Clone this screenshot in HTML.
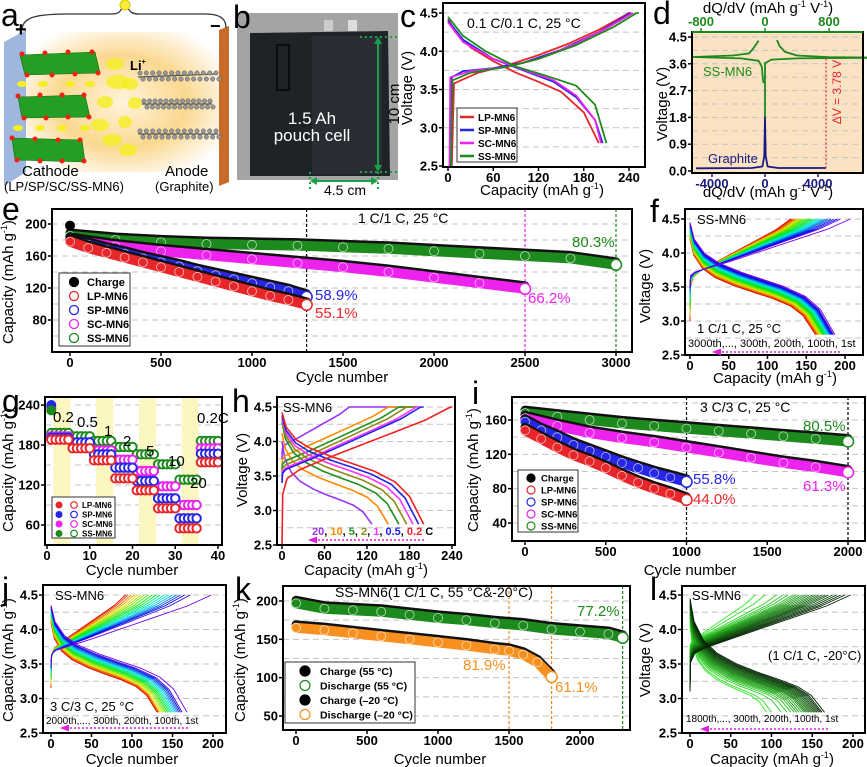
<!DOCTYPE html>
<html><head><meta charset="utf-8"><style>
body{margin:0;background:#fff}
svg{display:block;font-family:"Liberation Sans",Arial,sans-serif}
</style></head><body>
<svg id="fig" width="867" height="767" viewBox="0 0 867 767">
<defs>
<radialGradient id="elec" cx="0.5" cy="0.5" r="0.6"><stop offset="0" stop-color="#fff4dc"/><stop offset="0.55" stop-color="#fbd890"/><stop offset="1" stop-color="#fff"/></radialGradient>
</defs>
<!-- panel a -->
<g>
<rect x="25" y="32" width="195" height="140" rx="20" fill="url(#elec)"/>
<polygon points="4,42 26,30 26,172 4,186" fill="#9fb6df"/>
<polygon points="219,30 229,26 229,182 219,186" fill="#c86a28"/>
<path d="M22,30 C22,16 40,14 70,14 L112,14 C118,14 120,12 122,8 M128,8 C130,12 132,14 140,14 L205,14 C222,14 226,20 226,28" fill="none" stroke="#333" stroke-width="1.3"/>
<ellipse cx="125" cy="5" rx="5" ry="5" fill="#ffe93a" stroke="#cc0"/>
<g fill="#23a023" stroke="#116611" stroke-width="0.6">
<polygon points="20,55 95,52 100,73 25,75"/><polygon points="18,97 85,95 90,117 22,118"/><polygon points="12,138 82,140 85,162 15,160"/>
</g>
<g fill="#e21">
<circle cx="22" cy="54" r="2.5"/><circle cx="45" cy="53" r="2.5"/><circle cx="68" cy="52" r="2.5"/><circle cx="92" cy="52" r="2.5"/><circle cx="27" cy="75" r="2.5"/><circle cx="52" cy="75" r="2.5"/><circle cx="75" cy="74" r="2.5"/><circle cx="98" cy="73" r="2.5"/>
<circle cx="18" cy="96" r="2.5"/><circle cx="40" cy="95" r="2.5"/><circle cx="62" cy="95" r="2.5"/><circle cx="84" cy="95" r="2.5"/><circle cx="24" cy="118" r="2.5"/><circle cx="46" cy="118" r="2.5"/><circle cx="68" cy="117" r="2.5"/><circle cx="89" cy="117" r="2.5"/>
<circle cx="12" cy="138" r="2.5"/><circle cx="35" cy="139" r="2.5"/><circle cx="58" cy="140" r="2.5"/><circle cx="80" cy="140" r="2.5"/><circle cx="17" cy="160" r="2.5"/><circle cx="40" cy="161" r="2.5"/><circle cx="62" cy="161" r="2.5"/><circle cx="84" cy="161" r="2.5"/>
</g>
<g fill="#f4ef20">
<ellipse cx="22" cy="84" rx="5" ry="3"/><ellipse cx="43" cy="84" rx="5" ry="3"/><ellipse cx="70" cy="84" rx="5" ry="3"/><ellipse cx="90" cy="84" rx="5" ry="3"/>
<ellipse cx="18" cy="128" rx="5" ry="3"/><ellipse cx="40" cy="128" rx="5" ry="3"/><ellipse cx="62" cy="128" rx="5" ry="3"/><ellipse cx="85" cy="128" rx="5" ry="3"/>
<ellipse cx="115" cy="64" rx="9" ry="6" opacity="0.8"/><ellipse cx="118" cy="82" rx="12" ry="7" opacity="0.8"/><ellipse cx="130" cy="84" rx="8" ry="6" opacity="0.8"/><ellipse cx="105" cy="102" rx="8" ry="6" opacity="0.8"/><ellipse cx="135" cy="103" rx="7" ry="6" opacity="0.8"/><ellipse cx="100" cy="125" rx="9" ry="6" opacity="0.8"/><ellipse cx="125" cy="122" rx="7" ry="6" opacity="0.8"/><ellipse cx="112" cy="140" rx="10" ry="6" opacity="0.8"/><ellipse cx="128" cy="150" rx="9" ry="6" opacity="0.8"/>
</g>
<g id="graphite" stroke="#555" stroke-width="1.2" fill="#999">
<line x1="138" y1="77" x2="218" y2="74"/><line x1="142" y1="104" x2="212" y2="104"/><line x1="138" y1="134" x2="218" y2="134"/>
</g>
<text x="130" y="70" font-size="13" font-weight="bold">Li<tspan font-size="7" dy="-6">+</tspan></text>
<text x="15" y="36" font-size="20" font-weight="bold">+</text>
<text x="210" y="32" font-size="18" font-weight="bold">−</text>
<text x="22" y="176" font-size="15">Cathode</text>
<text x="4" y="191" font-size="13">(LP/SP/SC/SS-MN6)</text>
<text x="165" y="176" font-size="15">Anode</text>
<text x="155" y="191" font-size="13">(Graphite)</text>
<text x="1" y="26" font-size="32">a</text>
</g>
<!-- panel b -->
<g>
<rect x="237" y="13" width="161" height="167" fill="#a4a4a4"/>
<polygon points="250,33 388,31 390,176 250,176" fill="#1f2227"/>
<rect x="312" y="36" width="70" height="138" fill="#2a2d33"/>
<rect x="277" y="45" width="12" height="45" fill="none" stroke="#0c0c0c" stroke-width="2"/>
<rect x="324" y="20" width="9" height="11" fill="#ccc"/>
<rect x="348" y="20" width="9" height="11" fill="#ddd"/>
<text x="312" y="124" font-size="17" fill="#fff" text-anchor="middle">1.5 Ah</text>
<text x="312" y="141" font-size="17" fill="#fff" text-anchor="middle">pouch cell</text>
<g stroke="#1aa04a" stroke-width="2" fill="#1aa04a">
<line x1="360" y1="37" x2="400" y2="37" stroke-dasharray="2,3"/><line x1="360" y1="172" x2="400" y2="172" stroke-dasharray="2,3"/>
<line x1="378" y1="42" x2="378" y2="167"/><polygon points="374,44 382,44 378,37" stroke="none"/><polygon points="374,165 382,165 378,172" stroke="none"/>
<line x1="310" y1="172" x2="310" y2="190" stroke-dasharray="2,3"/><line x1="378" y1="172" x2="378" y2="190" stroke-dasharray="2,3"/>
<line x1="315" y1="181" x2="373" y2="181"/><polygon points="317,177 317,185 310,181" stroke="none"/><polygon points="371,177 371,185 378,181" stroke="none"/>
</g>
<text x="399" y="104" font-size="15" text-anchor="middle" transform="rotate(-90 399 104)">10 cm</text>
<text x="345" y="195" font-size="14" text-anchor="middle">4.5 cm</text>
<text x="233" y="28" font-size="32">b</text>
</g>
</svg>
<script>
const NS='http://www.w3.org/2000/svg';
const svg=document.getElementById('fig');
function mk(tag,attrs,parent){const e=document.createElementNS(NS,tag);for(const k in attrs)e.setAttribute(k,attrs[k]);(parent||svg).appendChild(e);return e;}
function lin(d0,d1,r0,r1){return v=>r0+(v-d0)*(r1-r0)/(d1-d0);}
function txt(x,y,s,attrs,parent){const t=mk('text',Object.assign({x:x,y:y},attrs||{}),parent);t.textContent=s;return t;}

/* ===== DATA ===== */
// panel c
const cLPchgCap=[5,8,40,80,120,160,200,240,243], cLPchgV=[2.5,3.58,3.72,3.82,3.95,4.1,4.28,4.5,4.5];
const cLPdisCap=[0,10,30,60,90,120,150,180,200], cLPdisV=[4.42,4.25,4.05,3.87,3.72,3.6,3.47,3.2,2.8];
const cSPchgCap=[3,5,20,60,100,150,200,242], cSPchgV=[2.5,3.66,3.74,3.78,3.85,4.02,4.25,4.5];
const cSPdisCap=[0,20,60,100,140,170,195,205], cSPdisV=[4.4,4.15,3.9,3.75,3.6,3.4,3.1,2.8];
const cSCchgCap=[2,3,30,80,120,170,210,245], cSCchgV=[2.5,3.66,3.74,3.8,3.9,4.1,4.3,4.5];
const cSCdisCap=[0,20,60,100,140,170,195,203], cSCdisV=[4.38,4.12,3.9,3.76,3.62,3.42,3.1,2.8];
const cSSchgCap=[4,6,30,80,120,170,220,250,253], cSSchgV=[2.5,3.62,3.72,3.8,3.9,4.08,4.32,4.5,4.5];
const cSSdisCap=[0,20,50,90,130,170,195,210], cSSdisV=[4.45,4.2,4.0,3.8,3.68,3.55,3.3,2.8];
// panel d
const dSScenterDq=[0,0], dSScenterV=[1.8,3.65];
const dSSdisDq=[-20,-30,-40,-80,-300,-900,-400,-200,-150,-100,-80], dSSdisV=[2.95,3.2,3.5,3.7,3.78,3.83,3.88,3.95,4.1,4.3,4.38];
const dSSchgDq=[0,80,400,1300], dSSchgV=[3.62,3.74,3.78,3.8];
const dSSchgTopDq=[150,180,250,400,800,1300], dSSchgTopV=[4.4,4.2,4.0,3.88,3.82,3.81];
const dGrDq=[-5200,-1000,-200,-50,0,50,200,1000,4600], dGrV=[0.09,0.1,0.15,0.5,1.8,0.5,0.15,0.1,0.1];
// panel e
const eLPcyc=[0,100,200,300,400,500,600,700,800,900,1000,1100,1200,1300];
const eLPcap=[178,170,164,158,152,146,140,134,128,122,116,110,105,99];
const eSPcyc=[0,100,200,300,400,500,600,700,800,900,1000,1100,1200,1300];
const eSPcap=[180,174,168,163,157,152,147,141,136,131,126,121,116,109];
const eSCcyc=[0,250,500,750,1000,1250,1500,1750,2000,2250,2500];
const eSCcap=[180,172,166,161,156,151,146,140,133,126,119];
const eSScyc=[0,250,500,750,1000,1250,1500,1750,2000,2250,2500,2750,3000];
const eSScap=[185,180,177,175,174,173,171,169,166,163,160,157,149];
// panel f
const fDisCap=[187,185,184,183,182,181,180,179,178,177,176,175,174,173,172,171,170,169,168,167,166,165,164,163,162];
const fChgCap=[207,194,190,186,182,178,175,172,169,166,163,160,157,154,151,148,146,144,142,140,138,136,134,132,130];
// panel g
const gRateLabels=['0.2','0.5','1','2','5','10','20','0.2C'];
const gLP=[188,175,157,130,112,85,55,154];
const gSP=[191,184,166,146,126,100,70,167];
const gSC=[193,183,172,158,141,118,90,175];
const gSS=[198,193,186,177,166,151,128,186];
const gFirst=[234,240,237,232];
// panel h
const hRates=['20','10','5','2','1','0.5','0.2'];
const hDisCap=[127,150,165,176,185,193,200];
const hDisStart=[4.0,4.12,4.28,4.32,4.35,4.38,4.42];
const hDisMid=[3.2,3.38,3.47,3.54,3.6,3.65,3.7];
const hChgCap=[95,150,165,176,190,196,238];
const hChgEnd=[190,180,186,190,195,200,240];
const hChgStart=[3.75,3.6,3.55,3.5,3.45,3.4,2.5];
const hChgMid=[3.95,3.8,3.72,3.66,3.62,3.6,3.55];
// panel i
const iLPcyc=[0,100,200,300,400,500,600,700,800,900,1000], iLPcap=[148,138,128,119,112,104,95,87,80,74,67];
const iSPcyc=[0,100,200,300,400,500,600,700,800,900,1000], iSPcap=[158,148,140,131,124,117,110,104,98,93,88];
const iSCcyc=[0,200,400,600,800,1000,1200,1400,1600,1800,2000], iSCcap=[162,153,145,139,134,128,122,116,110,105,99];
const iSScyc=[0,200,400,600,800,1000,1200,1400,1600,1800,2000], iSScap=[168,164,160,156,153,150,147,144,141,138,135];
// panel j
const jDisCap=[168,162,160,158,156,154,152,150,148,146,144,142,140,138,136,134,133,132,131];
const jChgCap=[198,172,165,160,155,150,145,140,135,130,125,120,115,111,107,103,99,95,92];
// panel k
const kHotCyc=[0,200,400,600,800,1000,1200,1400,1600,1800,2000,2200,2300];
const kHotCap=[197,190,188,186,182,178,175,171,168,163,160,157,152];
const kColdCyc=[0,200,400,600,800,1000,1200,1400,1500,1600,1700,1800];
const kColdCap=[165,162,158,154,150,146,142,137,135,130,120,101];
// panel l
const lDisCap=[165,162,160,158,156,154,152,150,148,146,144,142,140,137,134,131,128,124,119,112,100,94];
const lChgCap=[197,190,185,180,175,170,166,162,158,154,150,146,142,138,134,130,126,120,114,106,92,80];
// voltage-profile shape templates (fraction of capacity)
const tplFrac=[0,0.03,0.1,0.2,0.35,0.5,0.65,0.8,0.9,1];
const tplHi=[1,0.7,0.45,0.28,0.15,0.07,0.02,0,0,0];
const tplLo=[0,0,0,0,0.03,0.08,0.16,0.32,0.55,1];
const cTplFrac=[0,0.004,0.03,0.1,0.25,0.45,0.65,0.85,1];
const cTplRise=[0,0.7,0.9,0.97,1,1,1,1,1];
const cTplLin=[0,0,0.02,0.07,0.2,0.4,0.6,0.8,1];

/* ===== HELPERS ===== */
function panel(id,box,xs,ys,xT,xL,yT,yL,grid,o){
  o=o||{};
  const g=mk('g',{});
  
  
  if(o.bg){const b=mk('rect',{x:box[0],y:box[1],width:box[2]-box[0],height:box[3]-box[1],fill:o.bg},g);
    
    }
  grid.forEach(v=>{const l=mk('line',{x1:box[0],x2:box[2],y1:ys(v),y2:ys(v),stroke:'#c4c4c4','stroke-dasharray':'6,4','stroke-width':1},g);
    
    });
  const data=mk('g',{},g);
  
  
  const fr=mk('g',{},g);
  
  
  const xc=o.xColor||'#000';
  xT.forEach((v,i)=>{const x=xs(v);
    const t=mk('line',{x1:x,x2:x,y1:box[3],y2:box[3]+4,stroke:xc,'stroke-width':1.5},fr);
    
    
    const lb=txt(x,box[3]+15,xL[i],{'font-size':o.fs||13,'font-weight':'bold','text-anchor':'middle',fill:xc},fr);
    
    });
  yT.forEach((v,i)=>{const y=ys(v);
    const t=mk('line',{x1:box[0]-4,x2:box[0],y1:y,y2:y,stroke:'#000','stroke-width':1.5},fr);
    
    
    const lb=txt(box[0]-5,y+4.5,yL[i],{'font-size':o.fs||13,'font-weight':'bold','text-anchor':'end'},fr);
    
    });
  const r=mk('rect',{x:box[0],y:box[1],width:box[2]-box[0],height:box[3]-box[1],fill:'none',stroke:'#000','stroke-width':2},fr);
  
  
  return {g:g,data:data,fr:fr};
}
function pathD(xsArr,ysArr,xs,ys){return xsArr.map((v,i)=>(i?'L':'M')+xs(v).toFixed(1)+','+ys(ysArr[i]).toFixed(1)).join(' ');}
function line(parent,xa,ya,xs,ys,color,w,name){const p=mk('path',{d:pathD(xa,ya,xs,ys),fill:'none',stroke:color,'stroke-width':w||1.8,'stroke-linejoin':'round'},parent);
  
  return p;}
function band(parent,cyc,cap,xs,ys,color,name){
  const blk=mk('path',{d:pathD(cyc,cap,xs,v=>ys(v)-3),fill:'none',stroke:'#111','stroke-width':9,'stroke-linecap':'round','stroke-linejoin':'round'},parent);
  
  
  const p=mk('path',{d:pathD(cyc,cap,xs,ys),fill:'none',stroke:color,'stroke-width':10,'stroke-linecap':'round','stroke-linejoin':'round'},parent);
  
  
  cyc.forEach((c,i)=>{const m=mk('circle',{cx:xs(c),cy:ys(cap[i]),r:4.5,fill:'none',stroke:'#fff','stroke-width':0.8,opacity:0.7},parent);
    
    });
  const n=cyc.length-1;
  const e=mk('circle',{cx:xs(cyc[n]),cy:ys(cap[n]),r:5.5,fill:'#fff',stroke:color,'stroke-width':1.5},parent);
  
  
}
function disCurve(cap,start,mid){const xa=[],ya=[];tplFrac.forEach((f,k)=>{xa.push(f*cap);ya.push(mid+tplHi[k]*(start-mid)-tplLo[k]*(mid-2.8));});return [xa,ya];}
function chgCurve(cap,start,mid){const xa=[],ya=[];cTplFrac.forEach((f,k)=>{xa.push(f*cap);ya.push(start+(mid-start)*cTplRise[k]+(4.5-mid)*cTplLin[k]);});return [xa,ya];}
function family(parent,xs,ys,disCap,chgCap,p,colorFn,name){
  const n=disCap.length;
  for(let i=n-1;i>=0;i--){const t=i/(n-1);const L=(a)=>a[0]+(a[1]-a[0])*t;
    const c=chgCurve(chgCap[i],L(p.cs),L(p.cm));
    line(parent,c[0],c[1],xs,ys,colorFn(t),0.9,name+'-charge-curve');
    const d=disCurve(disCap[i],L(p.ds),L(p.dm));
    line(parent,d[0],d[1],xs,ys,colorFn(t),0.9,name+'-discharge-curve');}
}
function label(x,y,s,attrs,name){const t=txt(x,y,s,attrs);
  
  return t;}
function ytitle(x,y,html,name){const t=mk('text',{x:x,y:y,'font-size':15,'text-anchor':'middle',transform:'rotate(-90 '+x+' '+y+')'});t.innerHTML=html;
  
  }
function xtitle(x,y,html,name){const t=mk('text',{x:x,y:y,'font-size':15,'text-anchor':'middle'});t.innerHTML=html;
  
  }
function arrowL(x1,x2,y,name){const l=mk('line',{x1:x1+6,x2:x2,y1:y,y2:y,stroke:'#e020e0','stroke-width':1.5,'stroke-dasharray':'2,2'});
  
  
  const h=mk('polygon',{points:(x1)+','+y+' '+(x1+9)+','+(y-3.5)+' '+(x1+9)+','+(y+3.5),fill:'#e020e0'});
  
  }
function legendBox(x,y,w,h,name){const r=mk('rect',{x:x,y:y,width:w,height:h,fill:'#fff',stroke:'#333','stroke-width':1});
  
  }
const CAP='Capacity (mAh g<tspan font-size="9" dy="-6">-1</tspan><tspan dy="6">)</tspan>';
const VOLT='Voltage (V)';
const RED='#e8262a',BLUE='#2626e6',MAG='#ee22ee',GRN='#1d8a1d';
const vT=[2.5,3.0,3.5,4.0,4.5],vL=['2.5','3.0','3.5','4.0','4.5'],vG=[2.75,3.0,3.25,3.5,3.75,4.0,4.25,4.5];

/* graphite atoms decoration (panel a) */
{const gg=document.getElementById('graphite');
[[140,76,216,74],[144,104,210,104],[140,134,216,134]].forEach(r=>{for(let k=0;k<=12;k++){const x=r[0]+(r[2]-r[0])*k/12;
  const a=mk('circle',{cx:x,cy:r[1]-3,r:2.2,fill:'#999',stroke:'#555','stroke-width':0.5},gg);
  
  
  const b=mk('circle',{cx:x+3,cy:r[1]+3,r:2.2,fill:'#999',stroke:'#555','stroke-width':0.5},gg);
  
  }});}

/* ===== PANEL C ===== */
{const xs=lin(0,240,448,629),ys=lin(2.5,4.5,166,13);
const P=panel('panel-c',[443,3,645,167],xs,ys,[0,60,120,180,240],['0','60','120','180','240'],vT,vL,vG);
line(P.data,cLPchgCap,cLPchgV,xs,ys,RED,1.8,'lp-mn6-charge-curve');line(P.data,cLPdisCap,cLPdisV,xs,ys,RED,1.8,'lp-mn6-discharge-curve');
line(P.data,cSPchgCap,cSPchgV,xs,ys,BLUE,1.8,'sp-mn6-charge-curve');line(P.data,cSPdisCap,cSPdisV,xs,ys,BLUE,1.8,'sp-mn6-discharge-curve');
line(P.data,cSCchgCap,cSCchgV,xs,ys,MAG,1.8,'sc-mn6-charge-curve');line(P.data,cSCdisCap,cSCdisV,xs,ys,MAG,1.8,'sc-mn6-discharge-curve');
line(P.data,cSSchgCap,cSSchgV,xs,ys,GRN,1.8,'ss-mn6-charge-curve');line(P.data,cSSdisCap,cSSdisV,xs,ys,GRN,1.8,'ss-mn6-discharge-curve');
legendBox(457,108,60,54,'panel-c-legend');
[['LP-MN6',RED],['SP-MN6',BLUE],['SC-MN6',MAG],['SS-MN6',GRN]].forEach((e,i)=>{const y=117+i*13;
  const l=mk('line',{x1:460,x2:474,y1:y,y2:y,stroke:e[1],'stroke-width':2.5});
  
  
  label(478,y+4,e[0],{'font-size':10,'font-weight':'bold'},'panel-c-legend-entry');});
label(467,28,'0.1 C/0.1 C, 25 °C',{'font-size':14},'panel-c-condition');
xtitle(542,195,CAP,'panel-c-x-axis-title');ytitle(412,88,VOLT,'panel-c-y-axis-title');
label(400,27,'c',{'font-size':32},'panel-label-c');}

/* ===== PANEL D ===== */
{const xsT=lin(0,800,765,829),xsB=lin(0,4000,765,818),ys=lin(0,4.5,171,37);
const P=panel('panel-d',[692,32,863,173],xsB,ys,[-4000,0,4000],['-4000','0','4000'],[0,0.9,1.8,2.7,3.6,4.5],['0.0','0.9','1.8','2.7','3.6','4.5'],[0.45,0.9,1.35,1.8,2.25,2.7,3.15,3.6,4.05,4.5],{bg:'#fbe2c2',xColor:'#1a1a80'});
line(P.data,dSScenterDq,dSScenterV,xsT,ys,GRN,1.8,'ss-mn6-dqdv-center');
line(P.data,dSSdisDq,dSSdisV,xsT,ys,GRN,1.8,'ss-mn6-dqdv-discharge');
line(P.data,dSSchgDq,dSSchgV,xsT,ys,GRN,1.8,'ss-mn6-dqdv-charge');
line(P.data,dSSchgTopDq,dSSchgTopV,xsT,ys,GRN,1.8,'ss-mn6-dqdv-charge-upper');
line(P.data,dGrDq,dGrV,xsB,ys,'#1a1a80',1.8,'graphite-dqdv');
[-800,0,800].forEach((v,i)=>{const t=mk('line',{x1:xsT(v),x2:xsT(v),y1:32,y2:28,stroke:GRN,'stroke-width':1.5});
  
  
  label(xsT(v),26,['-800','0','800'][i],{'font-size':13,'font-weight':'bold','text-anchor':'middle',fill:GRN},'panel-d-top-tick-label');});
const tl=mk('line',{x1:692,x2:863,y1:32,y2:32,stroke:GRN,'stroke-width':2});


const dv=mk('line',{x1:826,x2:826,y1:ys(3.78),y2:ys(0.1),stroke:'#e8262a','stroke-width':1.2,'stroke-dasharray':'2,2'});


label(841,92,'ΔV = 3.78 V',{'font-size':12,fill:'#e8262a','text-anchor':'middle',transform:'rotate(-90 841 92)'},'delta-v-label');
label(703,76,'SS-MN6',{'font-size':13,fill:GRN},'panel-d-ss-mn6-label');
label(708,163,'Graphite',{'font-size':13,fill:'#1a1a80'},'panel-d-graphite-label');
xtitle(768,13,'dQ/dV (mAh g<tspan font-size="9" dy="-6">-1</tspan><tspan dy="6"> V</tspan><tspan font-size="9" dy="-6">-1</tspan><tspan dy="6">)</tspan>','panel-d-top-axis-title');
xtitle(768,197,'dQ/dV (mAh g<tspan font-size="9" dy="-6">-1</tspan><tspan dy="6"> V</tspan><tspan font-size="9" dy="-6">-1</tspan><tspan dy="6">)</tspan>','panel-d-bottom-axis-title');
ytitle(667,104,VOLT,'panel-d-y-axis-title');
label(653,24,'d',{'font-size':32},'panel-label-d');}

/* ===== PANEL E ===== */
{const xs=lin(0,3000,70,616),ys=lin(80,200,320,224);
const P=panel('panel-e',[52,209,632,352],xs,ys,[0,500,1000,1500,2000,2500,3000],['0','500','1000','1500','2000','2500','3000'],[80,120,160,200],['80','120','160','200'],[60,80,100,120,140,160,180,200,220].filter(v=>ys(v)>210&&ys(v)<351));
[[1300,'#000'],[2500,MAG],[3000,GRN]].forEach(v=>{const l=mk('line',{x1:xs(v[0]),x2:xs(v[0]),y1:209,y2:352,stroke:v[1],'stroke-width':1.2,'stroke-dasharray':'3,2'},P.data);
  
  });
band(P.data,eSScyc,eSScap,xs,ys,GRN,'ss-mn6');
band(P.data,eSCcyc,eSCcap,xs,ys,MAG,'sc-mn6');
band(P.data,eSPcyc,eSPcap,xs,ys,BLUE,'sp-mn6');
band(P.data,eLPcyc,eLPcap,xs,ys,RED,'lp-mn6');
const f0=mk('circle',{cx:xs(0),cy:ys(198),r:5,fill:'#000'},P.data);


legendBox(59,273,71,73,'panel-e-legend');
[['Charge','#000',1],['LP-MN6',RED,0],['SP-MN6',BLUE,0],['SC-MN6',MAG,0],['SS-MN6',GRN,0]].forEach((e,i)=>{const y=282+i*14;
  const c=mk('circle',{cx:74,cy:y,r:4.5,fill:e[2]?'#000':'none',stroke:e[1],'stroke-width':1.3});
  
  
  label(87,y+4,e[0],{'font-size':11,'font-weight':'bold'},'panel-e-legend-entry');});
label(358,223,'1 C/1 C, 25 °C',{'font-size':14},'panel-e-condition');
label(572,247,'80.3%',{'font-size':15,fill:GRN},'ss-mn6-retention');
label(528,303,'66.2%',{'font-size':15,fill:MAG},'sc-mn6-retention');
label(315,300,'58.9%',{'font-size':15,fill:BLUE},'sp-mn6-retention');
label(315,318,'55.1%',{'font-size':15,fill:RED},'lp-mn6-retention');
xtitle(342,382,'Cycle number','panel-e-x-axis-title');ytitle(13,282,CAP,'panel-e-y-axis-title');
label(2,220,'e',{'font-size':32},'panel-label-e');}

/* ===== PANEL F ===== */
{const xs=lin(0,200,690,845),ys=lin(2.5,4.5,355,219);
const P=panel('panel-f',[685,209,863,355],xs,ys,[0,50,100,150,200],['0','50','100','150','200'],vT,vL,vG);
family(P.data,xs,ys,fDisCap,fChgCap,{ds:[4.45,4.2],dm:[3.62,3.42],cs:[3.55,3.0],cm:[3.72,3.7]},t=>'hsl('+Math.round(270*(1-t))+',100%,45%)','f');
label(697,224,'SS-MN6',{'font-size':13},'panel-f-sample-label');
label(697,333,'1 C/1 C, 25 °C',{'font-size':13},'panel-f-condition');
label(688,347,'3000th,..., 300th, 200th, 100th, 1st',{'font-size':11},'panel-f-cycle-order');
arrowL(712,840,352,'panel-f-order-arrow');
xtitle(775,383,CAP,'panel-f-x-axis-title');ytitle(650,286,VOLT,'panel-f-y-axis-title');
label(650,222,'f',{'font-size':32},'panel-label-f');}

/* ===== PANEL G ===== */
{const xs=lin(0,40,47,218),ys=lin(60,240,525,405);
const P=panel('panel-g',[45,397,222,545],xs,ys,[0,10,20,30,40],['0','10','20','30','40'],[60,120,180,240],['60','120','180','240'],[60,90,120,150,180,210,240]);
[[1.5,5.5],[11.5,15.5],[21.5,25.5],[31.5,35.5]].forEach(b=>{const r=mk('rect',{x:xs(b[0]),y:398,width:xs(b[1])-xs(b[0]),height:146,fill:'#fcf6c0'},P.data);
  
  });
[[gSS,GRN],[gSC,MAG],[gSP,BLUE],[gLP,RED]].forEach((s,si)=>{
  s[0].forEach((v,ri)=>{for(let k=1;k<=5;k++){const cyc=ri*5+k;
    const c=mk('circle',{cx:xs(cyc),cy:ys(v),r:4.2,fill:'#fff',stroke:s[1],'stroke-width':2},P.data);
    
    }});});
[[gFirst[0],RED],[gFirst[2],MAG],[gFirst[1],BLUE],[gFirst[3],GRN]].forEach(f=>{const c=mk('circle',{cx:xs(1),cy:ys(f[0]),r:5,fill:f[1]},P.data);
  
  });
[[53,422],[77,427],[104,436],[123,446],[146,456],[168,466],[190,488],[197,423]].forEach((p,i)=>label(p[0],p[1],gRateLabels[i],{'font-size':15},'rate-label'));
legendBox(52,497,63,41,'panel-g-legend');
[['LP-MN6',RED],['SP-MN6',BLUE],['SC-MN6',MAG],['SS-MN6',GRN]].forEach((e,i)=>{const y=505+i*9.5;
  const a=mk('circle',{cx:59,cy:y,r:3.5,fill:e[1]});
  
  
  const b=mk('circle',{cx:74,cy:y,r:3.3,fill:'none',stroke:e[1],'stroke-width':1.2});
  
  
  label(82,y+3,e[0],{'font-size':8,'font-weight':'bold'},'panel-g-legend-entry');});
xtitle(132,575,'Cycle number','panel-g-x-axis-title');ytitle(13,470,CAP,'panel-g-y-axis-title');
label(2,412,'g',{'font-size':32},'panel-label-g');}

/* ===== PANEL H ===== */
{const xs=lin(0,240,282,452),ys=lin(2.5,4.5,545,407);
const P=panel('panel-h',[277,397,455,545],xs,ys,[0,60,120,180,240],['0','60','120','180','240'],vT,vL,vG);
const hCol=['#9933ff','#ff8a00','#1f8f1f','#8a8a10','#ff33ff','#2222ee','#ee2222'];
hRates.forEach((r,i)=>{
  const c=chgCurve(hChgCap[i],hChgStart[i],hChgMid[i]);
  c[0].push(hChgEnd[i]);c[1].push(4.5);
  line(P.data,c[0],c[1],xs,ys,hCol[i],1.6,'rate-'+r+'c-charge-curve');
  const d=disCurve(hDisCap[i],hDisStart[i],hDisMid[i]);
  line(P.data,d[0],d[1],xs,ys,hCol[i],1.6,'rate-'+r+'c-discharge-curve');});
label(283,412,'SS-MN6',{'font-size':13},'panel-h-sample-label');
const hl=mk('text',{x:312,y:535,'font-size':11,'font-weight':'bold'});


hRates.forEach((r,i)=>{const s=mk('tspan',{fill:hCol[i]},hl);s.textContent=r;const c=mk('tspan',{fill:'#000'},hl);c.textContent=i<6?', ':' C';});
arrowL(308,425,540,'panel-h-order-arrow');
xtitle(366,575,CAP,'panel-h-x-axis-title');ytitle(247,470,VOLT,'panel-h-y-axis-title');
label(232,412,'h',{'font-size':32},'panel-label-h');}

/* ===== PANEL I ===== */
{const xs=lin(0,2000,525,848),ys=lin(40,160,523,420);
const P=panel('panel-i',[512,397,865,541],xs,ys,[0,500,1000,1500,2000],['0','500','1000','1500','2000'],[40,80,120,160],['40','80','120','160'],[40,60,80,100,120,140,160,180].filter(v=>ys(v)>398&&ys(v)<540));
[1000,2000].forEach(v=>{const l=mk('line',{x1:xs(v),x2:xs(v),y1:397,y2:541,stroke:'#000','stroke-width':1.2,'stroke-dasharray':'3,2'},P.data);
  
  });
band(P.data,iSScyc,iSScap,xs,ys,GRN,'ss-mn6-3c');
band(P.data,iSCcyc,iSCcap,xs,ys,MAG,'sc-mn6-3c');
band(P.data,iSPcyc,iSPcap,xs,ys,BLUE,'sp-mn6-3c');
band(P.data,iLPcyc,iLPcap,xs,ys,RED,'lp-mn6-3c');
legendBox(518,470,60,62,'panel-i-legend');
[['Charge','#000',1],['LP-MN6',RED,0],['SP-MN6',BLUE,0],['SC-MN6',MAG,0],['SS-MN6',GRN,0]].forEach((e,i)=>{const y=478+i*12;
  const c=mk('circle',{cx:531,cy:y,r:4,fill:e[2]?'#000':'none',stroke:e[1],'stroke-width':1.2});
  
  
  label(541,y+3.5,e[0],{'font-size':9.5,'font-weight':'bold'},'panel-i-legend-entry');});
label(700,412,'3 C/3 C, 25 °C',{'font-size':14},'panel-i-condition');
label(803,431,'80.5%',{'font-size':15,fill:GRN},'ss-mn6-3c-retention');
label(803,491,'61.3%',{'font-size':15,fill:MAG},'sc-mn6-3c-retention');
label(693,484,'55.8%',{'font-size':15,fill:BLUE},'sp-mn6-3c-retention');
label(693,504,'44.0%',{'font-size':15,fill:RED},'lp-mn6-3c-retention');
xtitle(690,575,'Cycle number','panel-i-x-axis-title');ytitle(478,470,CAP,'panel-i-y-axis-title');
label(472,404,'i',{'font-size':32},'panel-label-i');}

/* ===== PANEL J ===== */
{const xs=lin(0,200,51,213),ys=lin(2.5,4.5,733,595);
const P=panel('panel-j',[43,585,226,733],xs,ys,[0,50,100,150,200],['0','50','100','150','200'],vT,vL,vG);
family(P.data,xs,ys,jDisCap,jChgCap,{ds:[4.35,4.1],dm:[3.55,3.35],cs:[3.5,3.15],cm:[3.7,3.75]},t=>'hsl('+Math.round(270*(1-t))+',100%,45%)','j');
label(55,600,'SS-MN6',{'font-size':13},'panel-j-sample-label');
label(50,711,'3 C/3 C, 25 °C',{'font-size':13},'panel-j-condition');
label(46,724,'2000th,..., 300th, 200th, 100th, 1st',{'font-size':10},'panel-j-cycle-order');
arrowL(60,190,728,'panel-j-order-arrow');
xtitle(132,764,'Cycle number','panel-j-x-axis-title');ytitle(13,660,CAP,'panel-j-y-axis-title');
label(2,600,'j',{'font-size':32},'panel-label-j');}

/* ===== PANEL K ===== */
{const xs=lin(0,2000,296,580),ys=lin(50,200,716,601);
const P=panel('panel-k',[283,586,630,730],xs,ys,[0,500,1000,1500,2000],['0','500','1000','1500','2000'],[50,100,150,200],['50','100','150','200'],[50,75,100,125,150,175,200].filter(v=>ys(v)>587));
[[1500,'#f08a20'],[1800,'#f08a20'],[2300,GRN]].forEach(v=>{const l=mk('line',{x1:xs(v[0]),x2:xs(v[0]),y1:586,y2:730,stroke:v[1],'stroke-width':1.2,'stroke-dasharray':'3,2'},P.data);
  
  });
band(P.data,kHotCyc,kHotCap,xs,ys,GRN,'ss-mn6-55c');
band(P.data,kColdCyc,kColdCap,xs,ys,'#f7901e','ss-mn6-minus20c');
legendBox(285,662,130,61,'panel-k-legend');
[['Charge (55 °C)','#000',1],['Discharge (55 °C)',GRN,0],['Charge (–20 °C)','#000',1],['Discharge (–20 °C)','#f7901e',0]].forEach((e,i)=>{const y=671+i*14.5;
  const c=mk('circle',{cx:305,cy:y,r:5,fill:e[2]?'#000':'none',stroke:e[1],'stroke-width':1.2});
  
  
  label(320,y+4,e[0],{'font-size':10.5,'font-weight':'bold'},'panel-k-legend-entry');});
label(335,597,'SS-MN6(1 C/1 C, 55 °C&-20°C)',{'font-size':14},'panel-k-condition');
label(577,616,'77.2%',{'font-size':15,fill:GRN},'panel-k-55c-retention');
label(463,670,'81.9%',{'font-size':15,fill:'#f7901e'},'panel-k-1500-retention');
label(555,692,'61.1%',{'font-size':15,fill:'#f7901e'},'panel-k-minus20c-retention');
xtitle(440,764,'Cycle number','panel-k-x-axis-title');ytitle(245,660,CAP,'panel-k-y-axis-title');
label(235,600,'k',{'font-size':32},'panel-label-k');}

/* ===== PANEL L ===== */
{const xs=lin(0,200,690,853),ys=lin(2.5,4.5,733,595);
const P=panel('panel-l',[682,586,865,733],xs,ys,[0,50,100,150,200],['0','50','100','150','200'],vT,vL,vG);
family(P.data,xs,ys,lDisCap,lChgCap,{ds:[4.45,4.05],dm:[3.35,3.15],cs:[3.1,3.6],cm:[3.7,3.85]},t=>'rgb('+Math.round(50*t)+','+Math.round(30+200*t)+','+Math.round(40*t)+')','l');
label(692,600,'SS-MN6',{'font-size':13},'panel-l-sample-label');
label(768,660,'(1 C/1 C, -20°C)',{'font-size':13},'panel-l-condition');
label(686,722,'1800th,..., 300th, 200th, 100th, 1st',{'font-size':10},'panel-l-cycle-order');
arrowL(700,830,729,'panel-l-order-arrow');
xtitle(772,764,CAP,'panel-l-x-axis-title');ytitle(650,660,VOLT,'panel-l-y-axis-title');
label(650,600,'l',{'font-size':32},'panel-label-l');}
</script>
</body></html>
